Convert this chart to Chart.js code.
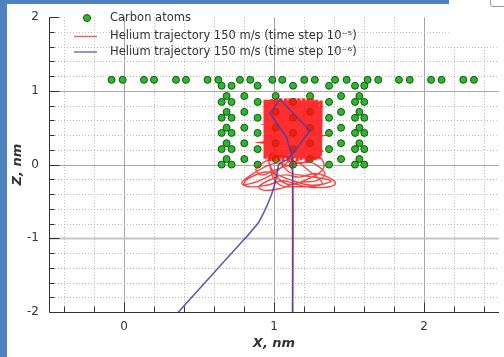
<!DOCTYPE html>
<html lang="en">
<head>
    <meta charset="UTF-8">
    <title>Helium trajectory</title>
    <script src="https://cdn.jsdelivr.net/npm/chart.js"></script>
    <style>
        body {
            margin: 0;
            background: #fff;
        }
        #wrap {
            position: relative;
            width: 504px;
            height: 357px;
            overflow: hidden;
        }
        #trajChart {
            position: absolute;
            left: 0;
            top: 0;
        }
        .frameLeft { position: absolute; left: 0; top: 0; width: 7px; height: 357px; background: #4f81bd; }
        .frameTop { position: absolute; left: 0; top: 0; width: 449px; height: 4px; background: #4f81bd; }
        .blank { position: absolute; left: 449px; top: 0; width: 55px; height: 47px; background: #fff; }
        .corner { position: absolute; left: 490px; top: -4px; width: 16px; height: 9px; border: 1px solid #999; border-radius: 3px; }
    </style>
</head>
<body>
<div id="wrap">
    <canvas id="trajChart" width="504" height="357"></canvas>
    <div class="blank"></div>
    <div class="corner"></div>
    <div class="frameLeft"></div>
    <div class="frameTop"></div>
</div>

<script>
    const seriesNames = [
        'Carbon atoms',
        'Helium trajectory 150 m/s (time step 10\u207B\u2075)',
        'Helium trajectory 150 m/s (time step 10\u207B\u2076)'
    ];

    const xTickValues = [-0.4, -0.2, 0, 0.2, 0.4, 0.6, 0.8, 1, 1.2, 1.4, 1.6, 1.8, 2, 2.2, 2.4];
    const yTickValues = [-2, -1.8, -1.6, -1.4, -1.2, -1, -0.8, -0.6, -0.4, -0.2, 0,
        0.2, 0.4, 0.6, 0.8, 1, 1.2, 1.4, 1.6, 1.8, 2];

    // carbon atoms, nm: the sheet on top and the block under it
    const sheetUpperX = [-0.083, -0.009, 0.133, 0.2, 0.347, 0.413, 0.557, 0.629, 0.773, 0.842, 0.989, 1.055,
        1.202, 1.272, 1.407, 1.484, 1.624, 1.695, 1.833, 1.905, 2.047, 2.117, 2.262, 2.333];
    const sheetLowerX = [0.651, 0.717, 0.891, 1.127, 1.367, 1.54, 1.602];
    const sheetZ = [1.15, 1.07];
    const blockUpperX = [0.684, 0.802, 1.011, 1.24, 1.447, 1.569];
    const blockLowerX = [0.651, 0.717, 0.891, 1.127, 1.367, 1.54, 1.602];
    const blockUpperZ = [0.93, 0.715, 0.5, 0.29, 0.075];
    const blockLowerZ = [0.85, 0.635, 0.43, 0.21, 0.0];

    // helium, time step 1e-5 (x, z in nm): way in and the loops under the block
    const heliumLoops5 = [
        [1.124, -2.1], [1.124, -0.1],
        [1.10, -0.02], [1.02, 0.02], [0.93, -0.04], [0.84, -0.15], [0.785, -0.25], [0.83, -0.3],
        [0.95, -0.28], [1.06, -0.22], [1.15, -0.27], [1.26, -0.31], [1.37, -0.3], [1.41, -0.25],
        [1.36, -0.17], [1.27, -0.12], [1.17, -0.17], [1.07, -0.14], [0.98, -0.2], [0.9, -0.3],
        [0.94, -0.35], [1.05, -0.32], [1.16, -0.24], [1.28, -0.22], [1.34, -0.13], [1.3, -0.03],
        [1.24, 0.03], [1.12, 0.0], [1.0, -0.08], [0.92, -0.14], [0.88, -0.06], [0.95, 0.05],
        [1.05, 0.12], [1.18, 0.02], [1.3, 0.1], [1.33, -0.05], [1.22, -0.2], [1.08, -0.26],
        [0.97, 0.0], [0.99, 0.15], [1.1, -0.1], [1.2, -0.15], [1.38, -0.22], [1.25, -0.28],
        [1.1, -0.2], [0.95, -0.1], [0.82, -0.2], [0.8, -0.27], [0.9, -0.22], [1.0, -0.12],
        [1.12, 0.05], [1.23, -0.08], [1.32, -0.26], [1.18, -0.3], [1.02, -0.25], [0.96, 0.08]
    ];

    // the dense part of the same run inside the block
    const heliumCore5 = [
        [0.94, 0.12], [0.955, 0.88], [0.97, 0.08], [0.985, 0.89], [1.0, 0.05], [1.015, 0.88],
        [1.03, 0.1], [1.045, 0.9], [1.06, 0.04], [1.075, 0.89], [1.09, 0.08], [1.105, 0.9],
        [1.12, 0.05], [1.135, 0.89], [1.15, 0.1], [1.165, 0.9], [1.18, 0.06], [1.195, 0.9],
        [1.21, 0.09], [1.225, 0.89], [1.24, 0.05], [1.255, 0.9], [1.27, 0.1], [1.285, 0.88],
        [1.3, 0.08], [1.315, 0.87],
        [1.31, 0.12], [1.29, 0.86], [1.275, 0.06], [1.26, 0.88], [1.245, 0.12], [1.23, 0.9],
        [1.215, 0.04], [1.2, 0.89], [1.185, 0.1], [1.17, 0.88], [1.155, 0.05], [1.14, 0.9],
        [1.125, 0.08], [1.11, 0.89], [1.095, 0.04], [1.08, 0.9], [1.065, 0.1], [1.05, 0.88],
        [1.035, 0.05], [1.02, 0.9], [1.005, 0.09], [0.99, 0.87], [0.975, 0.05], [0.96, 0.88],
        [0.945, 0.1], [0.94, 0.86],
        [0.95, 0.86], [1.31, 0.84], [0.94, 0.82], [1.3, 0.79], [0.95, 0.77], [1.315, 0.75],
        [0.945, 0.72], [1.3, 0.7], [0.94, 0.67], [1.31, 0.65], [0.95, 0.62], [1.305, 0.6],
        [0.94, 0.57], [1.31, 0.55], [0.95, 0.52], [1.3, 0.5], [0.94, 0.47], [1.315, 0.45],
        [0.945, 0.42], [1.3, 0.4], [0.94, 0.37], [1.31, 0.35], [0.95, 0.32], [1.3, 0.3],
        [0.94, 0.27], [1.31, 0.25], [0.95, 0.22], [1.3, 0.2], [0.94, 0.17], [1.31, 0.15],
        [0.95, 0.12], [1.29, 0.1],
        [1.3, 0.7], [0.95, 0.55], [1.31, 0.4], [0.94, 0.3], [1.3, 0.2], [0.96, 0.75], [1.28, 0.85]
    ];

    // helium, time step 1e-6
    const heliumPath6 = [
        [1.124, -2.1], [1.124, 0.1], [1.1, 0.25], [1.083, 0.375], [0.973, 0.696], [1.04, 0.883],
        [1.24, 0.459], [1.14, 0.19], [1.09, 0.07], [1.03, 0.0], [1.02, -0.13], [1.007, -0.25],
        [0.985, -0.4], [0.955, -0.55], [0.925, -0.68], [0.896, -0.79], [0.83, -0.95], [0.762, -1.1],
        [0.363, -2.0], [0.32, -2.1]
    ];

    const carbonPoints = [];
    sheetUpperX.forEach(x => carbonPoints.push({ x: x, y: sheetZ[0] }));
    sheetLowerX.forEach(x => carbonPoints.push({ x: x, y: sheetZ[1] }));
    blockUpperZ.forEach(z => blockUpperX.forEach(x => carbonPoints.push({ x: x, y: z })));
    blockLowerZ.forEach(z => blockLowerX.forEach(x => carbonPoints.push({ x: x, y: z })));

    const toPoints = path => path.map(p => ({ x: p[0], y: p[1] }));

    const carbonFill = '#2fb52f';
    const carbonEdge = '#0d5a0d';
    const red = 'rgba(255, 10, 10, 0.85)';
    const redThin = 'rgba(240, 25, 25, 0.8)';
    const blue = 'rgba(72, 64, 168, 0.85)';

    const isWhole = v => Math.abs(v - Math.round(v)) < 1e-6;

    // grid, axis lines and inward tick marks
    const framePlugin = {
        id: 'frame',
        beforeDatasetsDraw(chart) {
            const { ctx, chartArea: a, scales } = chart;
            ctx.save();
            scales.x.ticks.forEach(t => {
                const px = Math.round(scales.x.getPixelForValue(t.value)) + 0.5;
                ctx.beginPath();
                if (isWhole(t.value)) {
                    ctx.setLineDash([]);
                    ctx.strokeStyle = '#a4a4a4';
                } else {
                    ctx.setLineDash([1, 2]);
                    ctx.strokeStyle = '#b8b8b8';
                }
                ctx.lineWidth = 1;
                ctx.moveTo(px, a.top);
                ctx.lineTo(px, a.bottom);
                ctx.stroke();
            });
            scales.y.ticks.forEach(t => {
                if (Math.abs(t.value) > 1.9) return;
                const py = Math.round(scales.y.getPixelForValue(t.value)) + 0.5;
                ctx.beginPath();
                ctx.lineWidth = 1;
                if (isWhole(t.value)) {
                    ctx.setLineDash([]);
                    ctx.strokeStyle = t.value < -0.5 ? '#c6c6c6' : '#a8a8a8';
                    if (t.value < -0.5) ctx.lineWidth = 2;
                } else {
                    ctx.setLineDash([1, 2]);
                    ctx.strokeStyle = '#b8b8b8';
                }
                ctx.moveTo(a.left, py);
                ctx.lineTo(a.right, py);
                ctx.stroke();
            });
            ctx.restore();
        },
        afterDraw(chart) {
            const { ctx, chartArea: a, scales } = chart;
            const left = Math.round(a.left) + 0.5;
            const bottom = Math.round(a.bottom) + 0.5;
            ctx.save();
            ctx.strokeStyle = '#333';
            ctx.lineWidth = 1;
            ctx.beginPath();
            ctx.moveTo(left, a.top);
            ctx.lineTo(left, bottom);
            ctx.lineTo(a.right, bottom);
            scales.x.ticks.forEach(t => {
                const px = Math.round(scales.x.getPixelForValue(t.value)) + 0.5;
                ctx.moveTo(px, bottom);
                ctx.lineTo(px, bottom - (isWhole(t.value) ? 10 : 6));
            });
            scales.y.ticks.forEach(t => {
                const py = Math.round(scales.y.getPixelForValue(t.value)) + 0.5;
                ctx.moveTo(left, py);
                ctx.lineTo(left + (isWhole(t.value) ? 10 : 5), py);
            });
            ctx.stroke();
            ctx.restore();
        }
    };

    // legend sits inside the plot, top left, no box
    const legendPlugin = {
        id: 'insideLegend',
        afterDraw(chart) {
            const ctx = chart.ctx;
            const rows = [18, 36.5, 52];
            ctx.save();
            ctx.font = '11.5px "DejaVu Sans"';
            ctx.textBaseline = 'middle';
            seriesNames.forEach((name, i) => {
                const y = rows[i];
                if (i === 0) {
                    ctx.beginPath();
                    ctx.arc(87, y, 3.5, 0, Math.PI * 2);
                    ctx.fillStyle = carbonFill;
                    ctx.fill();
                    ctx.strokeStyle = carbonEdge;
                    ctx.lineWidth = 1;
                    ctx.stroke();
                } else {
                    ctx.beginPath();
                    ctx.moveTo(74, y);
                    ctx.lineTo(97, y);
                    ctx.strokeStyle = i === 1 ? 'rgba(220, 90, 90, 0.9)' : 'rgba(100, 100, 180, 0.9)';
                    ctx.lineWidth = 1.5;
                    ctx.stroke();
                }
                ctx.fillStyle = '#333';
                ctx.fillText(name, 110, y);
            });
            ctx.restore();
        }
    };

    const tickLabel = v => isWhole(v) ? String(Math.round(v)) : '';

    new Chart(document.getElementById('trajChart'), {
        type: 'scatter',
        data: {
            datasets: [
                {
                    label: seriesNames[0],
                    data: carbonPoints,
                    backgroundColor: carbonFill,
                    borderColor: carbonEdge,
                    borderWidth: 1,
                    pointRadius: 3.5,
                    order: 4
                },
                {
                    label: seriesNames[1],
                    data: toPoints(heliumLoops5),
                    showLine: true,
                    borderColor: redThin,
                    borderWidth: 1.4,
                    pointRadius: 0,
                    tension: 0.4,
                    order: 3
                },
                {
                    label: seriesNames[1],
                    data: toPoints(heliumCore5),
                    showLine: true,
                    borderColor: red,
                    borderWidth: 3,
                    pointRadius: 0,
                    tension: 0,
                    order: 2
                },
                {
                    label: seriesNames[2],
                    data: toPoints(heliumPath6),
                    showLine: true,
                    borderColor: blue,
                    borderWidth: 1.6,
                    pointRadius: 0,
                    tension: 0,
                    order: 1
                }
            ]
        },
        options: {
            responsive: false,
            animation: false,
            layout: { padding: { top: 13, right: 4, left: 0, bottom: 0 } },
            plugins: {
                legend: { display: false },
                tooltip: { enabled: false }
            },
            scales: {
                x: {
                    type: 'linear',
                    min: -0.5,
                    max: 2.5,
                    afterFit: scale => { scale.height = 45; },
                    afterBuildTicks: scale => { scale.ticks = xTickValues.map(v => ({ value: v })); },
                    grid: { display: false, drawTicks: false },
                    border: { display: false },
                    ticks: {
                        autoSkip: false,
                        maxRotation: 0,
                        padding: 8,
                        color: '#333',
                        font: { family: 'DejaVu Sans', size: 12 },
                        callback: tickLabel
                    },
                    title: {
                        display: true,
                        text: 'X, nm',
                        color: '#333',
                        padding: { top: 0, bottom: 6 },
                        font: { family: 'DejaVu Sans', size: 13, style: 'italic', weight: 'bold' }
                    }
                },
                y: {
                    type: 'linear',
                    min: -2,
                    max: 2,
                    afterFit: scale => { scale.width = 49; },
                    afterBuildTicks: scale => { scale.ticks = yTickValues.map(v => ({ value: v })); },
                    grid: { display: false, drawTicks: false },
                    border: { display: false },
                    ticks: {
                        autoSkip: false,
                        padding: 10,
                        color: '#333',
                        font: { family: 'DejaVu Sans', size: 12 },
                        callback: tickLabel
                    },
                    title: {
                        display: true,
                        text: 'Z, nm',
                        color: '#333',
                        padding: { top: 10, bottom: 0 },
                        font: { family: 'DejaVu Sans', size: 13, style: 'italic', weight: 'bold' }
                    }
                }
            }
        },
        plugins: [framePlugin, legendPlugin]
    });
</script>
</body>
</html>
